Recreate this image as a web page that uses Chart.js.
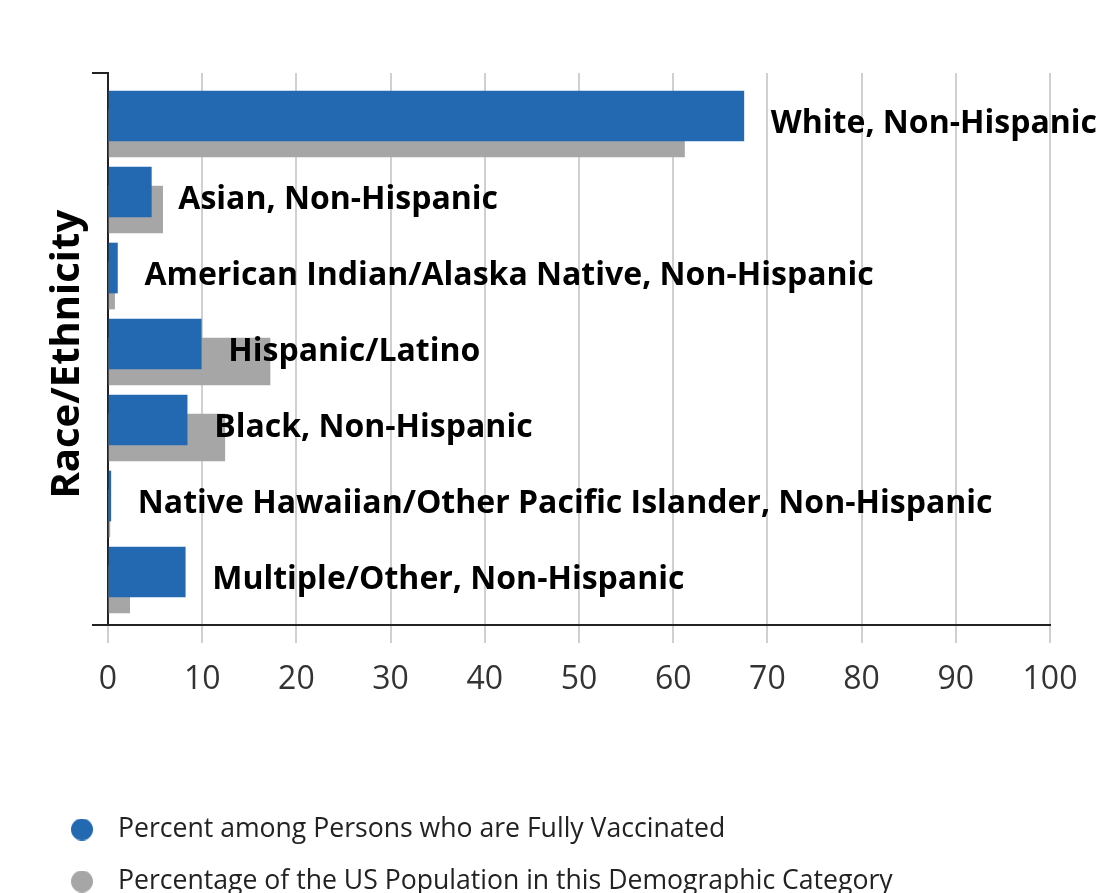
<!DOCTYPE html>
<html>
<head>
<meta charset="utf-8">
<script src="https://cdn.jsdelivr.net/npm/chart.js@4.4.0/dist/chart.umd.min.js"></script>
<style>
  html, body { margin: 0; padding: 0; background: #ffffff; }
  #wrap { width: 1098px; height: 893px; }
</style>
</head>
<body>
<div id="wrap"><canvas id="c" width="1098" height="893"></canvas></div>
<script>
// ---- data ----
const categories = [
  "White, Non-Hispanic",
  "Asian, Non-Hispanic",
  "American Indian/Alaska Native, Non-Hispanic",
  "Hispanic/Latino",
  "Black, Non-Hispanic",
  "Native Hawaiian/Other Pacific Islander, Non-Hispanic",
  "Multiple/Other, Non-Hispanic"
];
const vaccinatedPct = [67.5, 4.6, 1.0, 9.9, 8.4, 0.3, 8.2];
const populationPct = [61.2, 5.8, 0.7, 17.2, 12.4, 0.2, 2.3];
const seriesNames = [
  "Percent among Persons who are Fully Vaccinated",
  "Percentage of the US Population in this Demographic Category"
];
const xTicks = [0, 10, 20, 30, 40, 50, 60, 70, 80, 90, 100];
const axisTitle = "Race/Ethnicity";

const BLUE = "#2369b1";
const GRAY = "#a6a6a6";

function dot(color) {
  const c = document.createElement("canvas");
  c.width = 22; c.height = 22;
  const g = c.getContext("2d");
  g.fillStyle = color;
  g.beginPath(); g.arc(11, 11, 11, 0, Math.PI * 2); g.fill();
  return c;
}
const dots = [dot(BLUE), dot(GRAY)];

const labelPlugin = {
  id: "barLabels",
  afterDatasetsDraw(chart) {
    const meta = chart.getDatasetMeta(0);
    const ctx = chart.ctx;
    ctx.save();
    ctx.font = "bold 32px 'Open Sans'";
    ctx.fillStyle = "#000000";
    ctx.textAlign = "left";
    ctx.textBaseline = "alphabetic";
    meta.data.forEach((el, i) => {
      ctx.fillText(categories[i], el.x + 27, el.y + 17);
    });
    ctx.restore();
  }
};

const yMin = -0.566, yMax = 6.697, grayShift = 0.23;

new Chart(document.getElementById("c"), {
  type: "bar",
  data: {
    datasets: [
      {
        label: seriesNames[0],
        data: vaccinatedPct.map((v, i) => ({ x: v, y: i })),
        backgroundColor: BLUE,
        barThickness: 50,
        grouped: false,
        yAxisID: "y"
      },
      {
        label: seriesNames[1],
        data: populationPct.map((v, i) => ({ x: v, y: i })),
        backgroundColor: GRAY,
        barThickness: 47,
        grouped: false,
        yAxisID: "y2"
      }
    ]
  },
  options: {
    indexAxis: "y",
    responsive: false,
    animation: false,
    devicePixelRatio: 1,
    layout: { padding: { top: 73, left: 33.9, right: 48, bottom: -11.8 } },
    plugins: {
      tooltip: { enabled: false },
      legend: {
        position: "bottom",
        align: "start",
        labels: {
          usePointStyle: true,
          pointStyleWidth: 45.4,
          boxHeight: 22,
          padding: 25.4,
          color: "#222222",
          font: { family: "'Open Sans'", size: 26.6 },
          generateLabels(chart) {
            const items = Chart.defaults.plugins.legend.labels.generateLabels(chart);
            items.forEach((it, i) => { it.pointStyle = dots[i]; });
            return items;
          }
        }
      }
    },
    scales: {
      x: {
        type: "linear",
        min: 0,
        max: 100,
        afterBuildTicks(scale) { scale.ticks = xTicks.map(v => ({ value: v })); },
        afterFit(scale) { scale.height = 165.8; },
        grid: { color: "#d0d0d0", lineWidth: 2, tickLength: 18, tickColor: "#d0d0d0" },
        border: { color: "#222222", width: 2 },
        ticks: { color: "#333333", padding: 18, font: { family: "'Open Sans'", size: 32 } }
      },
      y: {
        type: "linear",
        reverse: true,
        offset: false,
        min: yMin,
        max: yMax,
        afterBuildTicks(scale) { scale.ticks = [{ value: yMin }, { value: yMax }]; },
        afterFit(scale) { scale.width = 74.1; },
        grid: { offset: false, drawOnChartArea: false, tickLength: 16, tickColor: "#222222", lineWidth: 2 },
        border: { color: "#222222", width: 2 },
        ticks: { display: false },
        title: {
          display: true,
          text: axisTitle + " ",
          color: "#000000",
          font: { family: "'Open Sans'", size: 40, weight: "bold" },
          padding: { top: 10, bottom: 0 }
        }
      },
      y2: {
        type: "linear",
        display: false,
        reverse: true,
        offset: false,
        grid: { offset: false },
        min: yMin - grayShift,
        max: yMax - grayShift
      }
    }
  },
  plugins: [labelPlugin]
});
</script>
</body>
</html>
